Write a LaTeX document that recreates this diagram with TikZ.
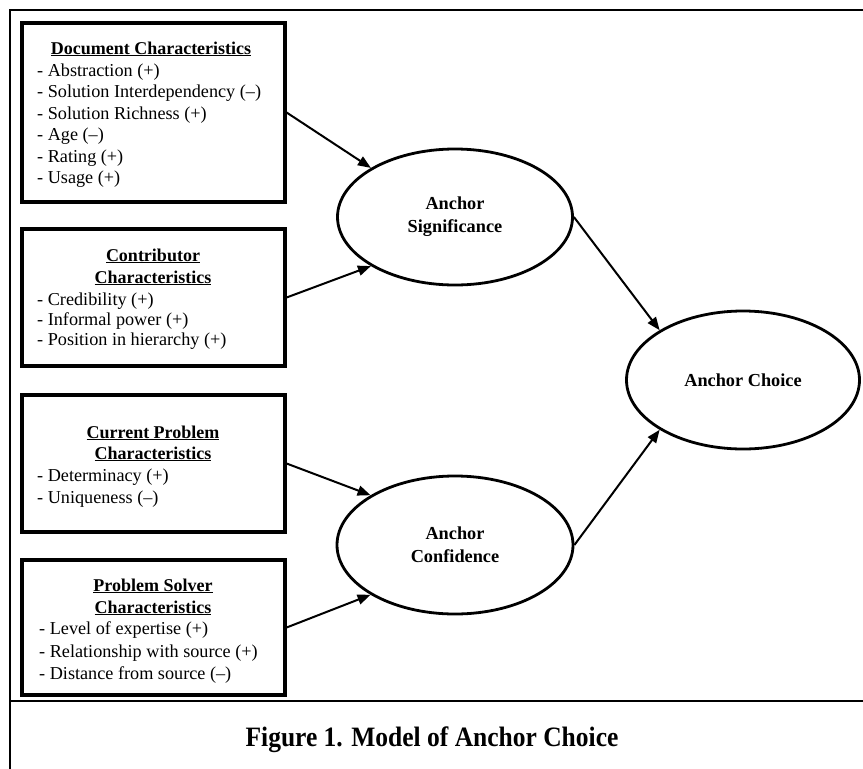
\documentclass[tikz,border=0pt]{standalone}
\usepackage{fontspec}
\setmainfont{Liberation Serif}
\usetikzlibrary{shapes.geometric,arrows.meta}
\begin{document}
\begin{tikzpicture}[x=1pt,y=-1pt,
  framestyle/.style={line width=2pt},
  boxstyle/.style={draw,line width=3.2pt,rectangle,inner sep=0pt},
  ovalstyle/.style={draw,line width=2.8pt,ellipse,inner sep=0pt,align=center,
     font=\fontsize{18.3}{23}\selectfont\bfseries},
  headstyle/.style={inner sep=0pt,anchor=base,font=\fontsize{18}{21}\selectfont\bfseries},
  itemstyle/.style={inner sep=0pt,anchor=base west,font=\fontsize{18.2}{21}\selectfont},
  arrowstyle/.style={line width=2pt,-{Triangle[length=13pt,width=10pt]}},
  capstyle/.style={inner sep=0pt,font=\fontsize{25.5}{30}\selectfont\bfseries}
]
\useasboundingbox (0,0) rectangle (863,769);
% frame
\coordinate (ftl) at (10,10);
\coordinate (ftr) at (863,10);
\coordinate (fbl) at (10,769);
\coordinate (fdl) at (10,701);
\coordinate (fdr) at (863,701);
\draw[framestyle] (ftr) -- (ftl) -- (fbl);
\draw[framestyle] (fdl) -- (fdr);

% boxes
\node[boxstyle,minimum width=263,minimum height=179] (b1) at (153.5,112.5) {};
\node[boxstyle,minimum width=263,minimum height=137] (b2) at (153.5,297.5) {};
\node[boxstyle,minimum width=263,minimum height=137] (b3) at (153.5,463.5) {};
\node[boxstyle,minimum width=263,minimum height=135] (b4) at (153.5,627.5) {};

% box 1 text
\node[headstyle] (h1) at (151,54) {\underline{Document Characteristics}};
\node[itemstyle] (i11) at (37,76) {- Abstraction (+)};
\node[itemstyle] (i12) at (37,97) {- Solution Interdependency (–)};
\node[itemstyle] (i13) at (37,119) {- Solution Richness (+)};
\node[itemstyle] (i14) at (37,140) {- Age (–)};
\node[itemstyle] (i15) at (37,162) {- Rating (+)};
\node[itemstyle] (i16) at (37,183) {- Usage (+)};

% box 2 text
\node[headstyle] (h2a) at (153,261) {\underline{Contributor}};
\node[headstyle] (h2b) at (153,283) {\underline{Characteristics}};
\node[itemstyle] (i21) at (37,305) {- Credibility (+)};
\node[itemstyle] (i22) at (37,325) {- Informal power (+)};
\node[itemstyle] (i23) at (37,345) {- Position in hierarchy (+)};

% box 3 text
\node[headstyle] (h3a) at (153,438) {\underline{Current Problem}};
\node[headstyle] (h3b) at (153,459) {\underline{Characteristics}};
\node[itemstyle] (i31) at (37,481) {- Determinacy (+)};
\node[itemstyle] (i32) at (37,503) {- Uniqueness (–)};

% box 4 text
\node[headstyle] (h4a) at (153,591) {\underline{Problem Solver}};
\node[headstyle] (h4b) at (153,613) {\underline{Characteristics}};
\node[itemstyle] (i41) at (39,634) {- Level of expertise (+)};
\node[itemstyle] (i42) at (39,657) {- Relationship with source (+)};
\node[itemstyle] (i43) at (39,679) {- Distance from source (–)};

% ellipses
\node[ovalstyle,minimum width=235,minimum height=136] (sig) at (455,217) {Anchor\\Significance};
\node[ovalstyle,minimum width=236,minimum height=138] (conf) at (455,545) {Anchor\\Confidence};
\node[ovalstyle,minimum width=233,minimum height=138] (choice) at (743,380) {Anchor Choice};

% arrows
\draw[arrowstyle] (b1.east) -- (sig.north west);
\draw[arrowstyle] (b2.east) -- (sig.south west);
\draw[arrowstyle] (b3.east) -- (conf.north west);
\draw[arrowstyle] (b4.east) -- (conf.south west);
\draw[arrowstyle] (sig.east) -- (choice.north west);
\draw[arrowstyle] (conf.east) -- (choice.south west);

% caption
\node[capstyle,yscale=1.1] (cap) at (432,740) {Figure 1. Model of Anchor Choice};
\end{tikzpicture}
\end{document}
